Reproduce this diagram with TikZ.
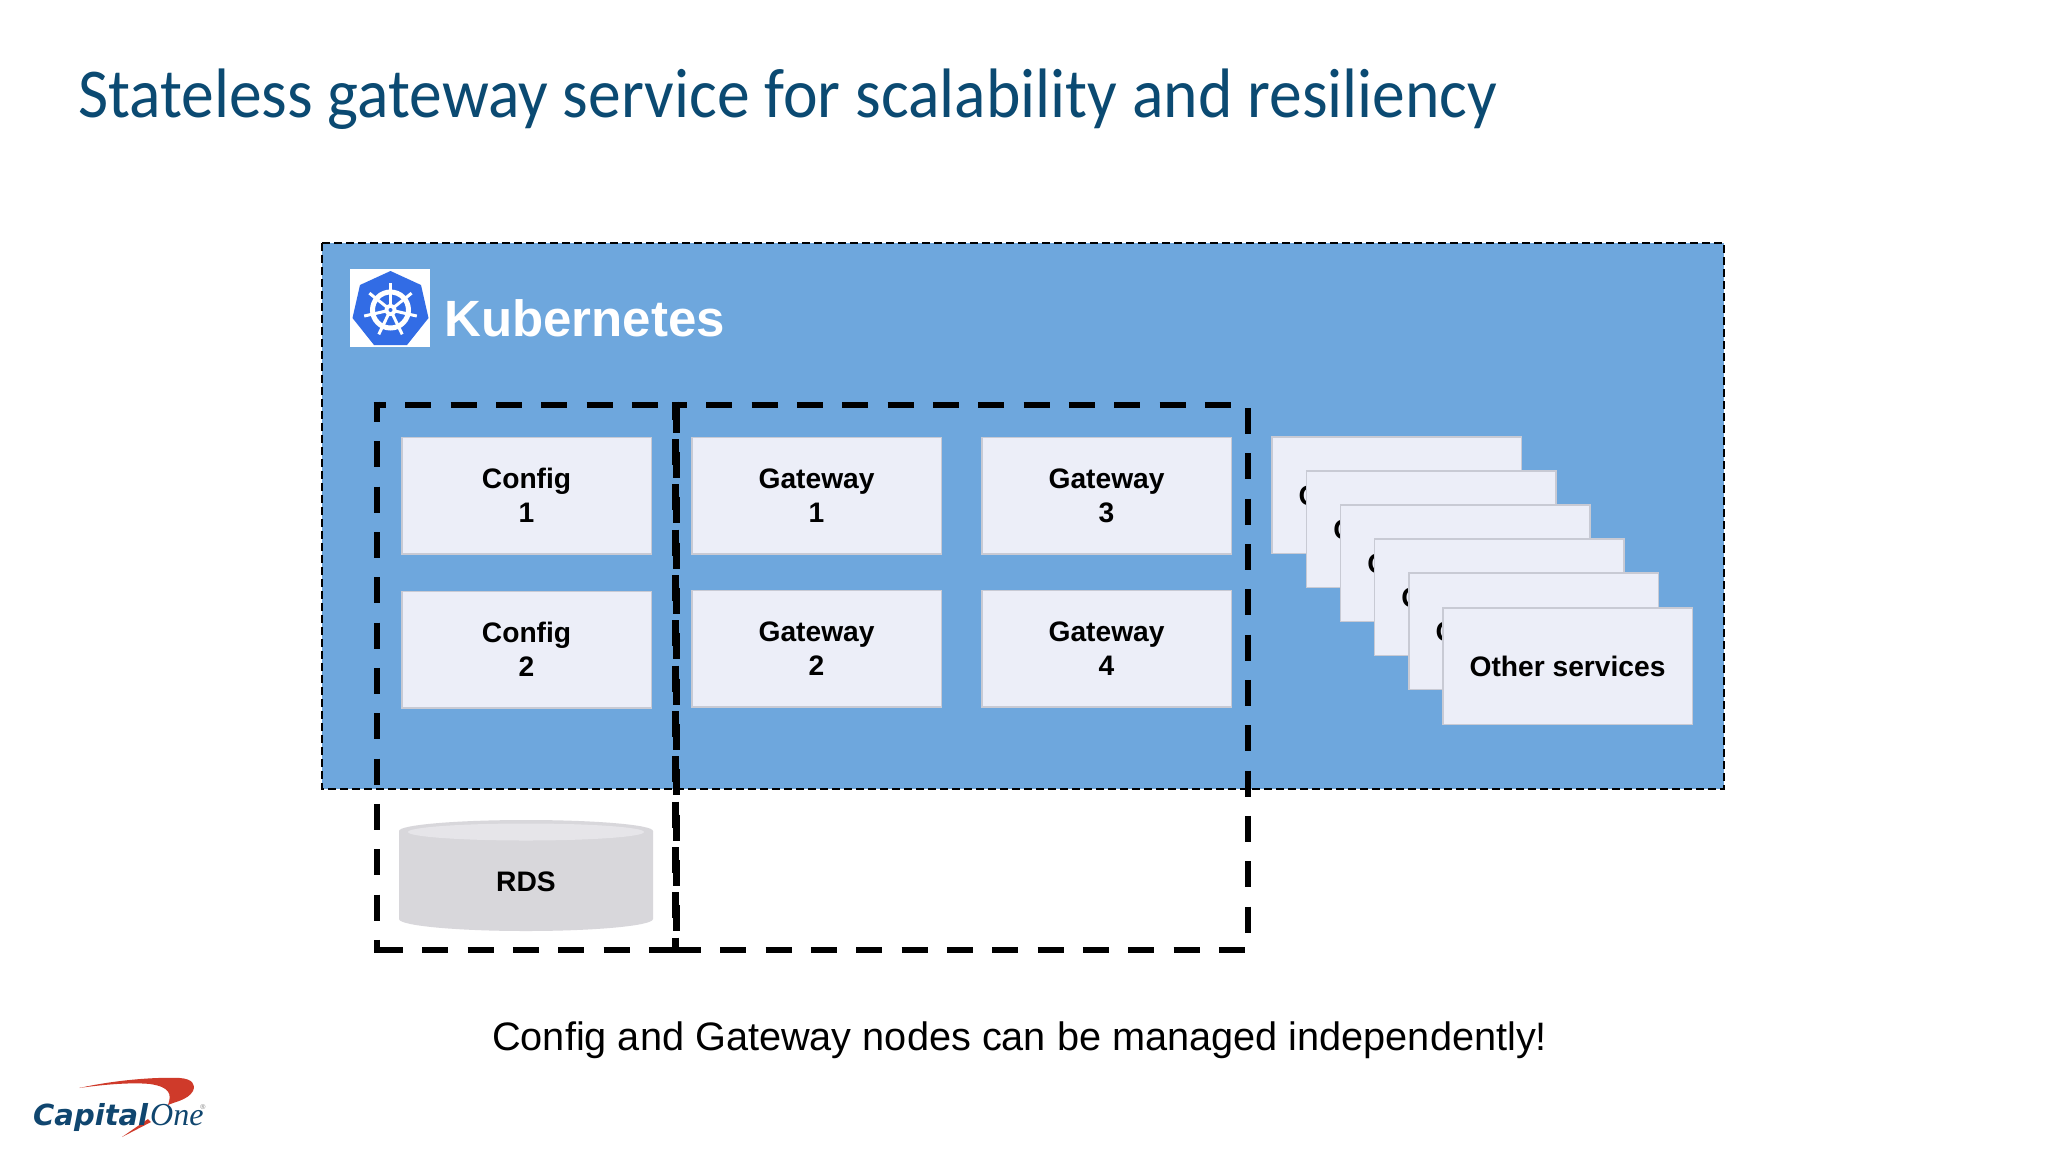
\documentclass[tikz,border=0pt]{standalone}
\usepackage{fontspec}
\setmainfont{Liberation Sans}
\newfontfamily\titlefont[FakeStretch=0.937]{Carlito}
\newfontfamily\serifitalic{Liberation Serif}
\newfontfamily\capfont{DejaVu Sans}
\definecolor{kblue}{HTML}{6EA7DD}
\definecolor{boxfill}{HTML}{ECEEF8}
\definecolor{boxline}{HTML}{C8CAD4}
\definecolor{titleblue}{HTML}{0B4A72}
\definecolor{kube}{HTML}{326CE5}
\definecolor{cylside}{HTML}{D8D7DB}
\definecolor{cyltop}{HTML}{E6E5E9}
\definecolor{capnavy}{HTML}{10466F}
\definecolor{capred}{HTML}{CF3A2A}
\tikzset{
  svcbox/.style={draw=boxline,line width=1.6pt,fill=boxfill,anchor=north west,inner sep=0pt,
    minimum width=249.5pt,minimum height=116.5pt,align=center,text=black,
    font=\fontsize{28.2}{34}\selectfont\bfseries},
  heavydash/.style={draw=black,line width=6.5pt,dash pattern=on 26pt off 19.33pt},
  label/.style={inner sep=0pt,anchor=base west},
}
\begin{document}
\begin{tikzpicture}[x=1pt,y=-1pt]
\useasboundingbox (0,0) rectangle (2048,1152);
\fill[white] (0,0) rectangle (2048,1152);
% Title
\node[label,font=\titlefont\fontsize{70}{80}\selectfont,text=titleblue] (title) at (78,117) {Stateless gateway service for scalability and resiliency};
% Kubernetes panel
\path[fill=kblue] (322,243) rectangle (1724,789);
\draw[line width=2pt,dash pattern=on 8pt off 4pt] (322,243) -- (1724,243) -- (1724,789) -- (322,789) -- cycle;
% logo
\fill[white] (350,269) rectangle (430,347);
\fill[kube] (390.5,271) -- (421,285) -- (428.5,318) -- (407,345) -- (374,345) -- (352.5,318) -- (360,285) -- cycle;
\begin{scope}[shift={(390.5,310)}]
  \draw[white,line width=5pt] (0,0) circle (18);
  \foreach \a in {-90,-38.6,12.9,64.3,115.7,167.1,218.6}{
    \draw[white,line width=3pt] (0,0) -- (\a:27);
  }
  \fill[white] (0,0) circle (6);
  \fill[kube] (0,0) circle (2);
\end{scope}
\node[label,font=\fontsize{51}{60}\selectfont\bfseries,text=white] (kubernetes) at (444,336) {Kubernetes};
% Boxes
\node[svcbox] (c1) at (401,436.5) {Config\\1};
\node[svcbox] (c2) at (401,590.5) {Config\\2};
\node[svcbox] (g1) at (691,436.5) {Gateway\\1};
\node[svcbox] (g2) at (691,589.5) {Gateway\\2};
\node[svcbox] (g3) at (981,436.5) {Gateway\\3};
\node[svcbox] (g4) at (981,589.5) {Gateway\\4};
\foreach \i/\x/\y in {1/1271/436,2/1305.7/470,3/1339.7/504.3,4/1373.7/538.3,5/1408/572.3}{
  \node[svcbox] (o\i) at (\x,\y) {Other services};
}
\node[svcbox] (o6) at (1442,607) {Other services};
% RDS cylinder
\fill[cylside] (399,831) -- (399,919) arc[start angle=180,end angle=0,x radius=127,y radius=12] -- (653,831) -- cycle;
\fill[cylside] (526,831) ellipse[x radius=127,y radius=11];
\fill[cyltop] (526,832) ellipse[x radius=118,y radius=8.5];
\node[inner sep=0pt,font=\fontsize{28.2}{34}\selectfont\bfseries] (rds) at (526,881.5) {RDS};
% Caption
\node[label,font=\fontsize{39.7}{50}\selectfont] (caption) at (492,1050) {Config and Gateway nodes can be managed independently!};
% Heavy dashed frames
\draw[heavydash,dash phase=13.5pt] (373.5,405) -- (676,405);
\draw[heavydash,dash phase=5.5pt] (377,401.5) -- (377,953);
\draw[heavydash] (377,950) -- (676,950);
\draw[heavydash,dash phase=7.8pt] (675.5,401.5) -- (675.5,950);
\draw[heavydash] (676.5,406.7) -- (676.5,950);
\draw[heavydash,dash phase=12pt] (673,405) -- (1232,405);
\draw[heavydash] (675,950) -- (1246,950);
\draw[heavydash] (1248,408) -- (1248,933);
% Capital One logo
\fill[capred] (79,1088) .. controls (120,1079) and (160,1077) .. (180,1078) .. controls (192,1079) and (196,1084) .. (193,1091) .. controls (188,1100) and (174,1102) .. (168,1105) .. controls (172,1094) and (170,1087) .. (150,1084) .. controls (130,1082) and (100,1085) .. (79,1088) -- cycle;
\fill[capred] (148,1119) -- (122,1137) -- (151,1122) -- cycle;
\node[label,font=\capfont\fontsize{29}{36}\selectfont\bfseries\itshape,text=capnavy] (capital) at (33,1125) {Capital};
\node[label,font=\serifitalic\fontsize{32}{36}\selectfont\itshape,text=capnavy] (one) at (150,1125) {One};
\node[inner sep=0pt,font=\fontsize{7}{8}\selectfont,text=gray] (reg) at (203,1107) {®};
\end{tikzpicture}
\end{document}
